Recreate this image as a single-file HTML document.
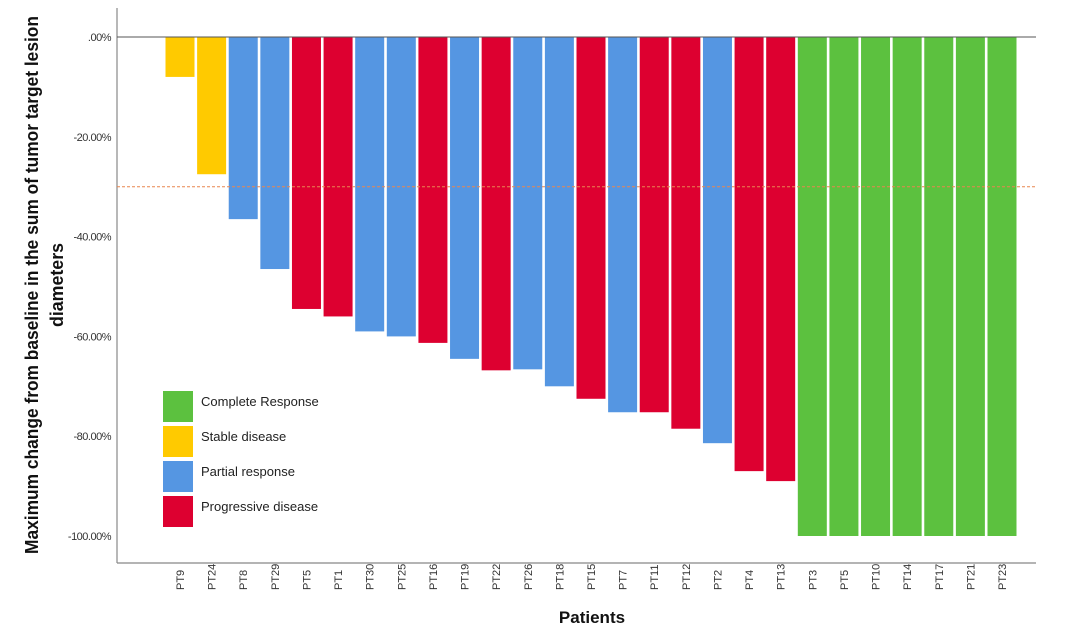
<!DOCTYPE html>
<html><head><meta charset="utf-8"><style>
html,body{margin:0;padding:0;background:#fff;}
svg{display:block;font-family:"Liberation Sans",sans-serif;}
</style></head><body>
<svg id="chart" width="1080" height="635" viewBox="0 0 1080 635">
<g id="bars"></g>
<g id="axes"></g>
</svg>
<script>
const patients=["PT9","PT24","PT8","PT29","PT5","PT1","PT30","PT25","PT16","PT19","PT22","PT26","PT18","PT15","PT7","PT11","PT12","PT2","PT4","PT13","PT3","PT5","PT10","PT14","PT17","PT21","PT23"];
const values=[-8,-27.5,-36.5,-46.5,-54.5,-56,-59,-60,-61.3,-64.5,-66.8,-66.6,-70,-72.5,-75.2,-75.2,-78.5,-81.4,-87,-89,-100,-100,-100,-100,-100,-100,-100];
const responses=["SD","SD","PR","PR","PD","PD","PR","PR","PD","PR","PD","PR","PR","PD","PR","PD","PD","PR","PD","PD","CR","CR","CR","CR","CR","CR","CR"];
const yTicks=[0,-20,-40,-60,-80,-100];
const yTickLabels=[".00%","-20.00%","-40.00%","-60.00%","-80.00%","-100.00%"];
const threshold=-30;
const legendKeys=["CR","SD","PR","PD"];
const legendLabels=["Complete Response","Stable disease","Partial response","Progressive disease"];
const colors={CR:"#5cc13f",SD:"#ffca00",PR:"#5596e2",PD:"#dd0030"};

const NS="http://www.w3.org/2000/svg";
const y=v=>37+(-v)*4.99;
const x0=180, step=(1002-180)/26;
const xc=i=>x0+i*step;
const bw=29;
function mk(tag,attrs,parent,text){const e=document.createElementNS(NS,tag);for(const k in attrs)e.setAttribute(k,attrs[k]);if(text!=null)e.textContent=text;parent.appendChild(e);return e;}
const svg=document.getElementById('chart'),bars=document.getElementById('bars'),axes=document.getElementById('axes');

values.forEach((v,i)=>{
  const r=mk('rect',{x:xc(i)-bw/2,y:y(0),width:bw,height:y(v)-y(0),fill:colors[responses[i]]},bars);
  
  
  const t=mk('text',{transform:`translate(${xc(i)+4},590) rotate(-90)`,'font-size':11,fill:'#333'},axes,patients[i]);
  
  
});
let l=mk('line',{x1:117,y1:8,x2:117,y2:563,stroke:'#888','stroke-width':1.2},axes);

l=mk('line',{x1:117,y1:563,x2:1036,y2:563,stroke:'#888','stroke-width':1.2},axes);

l=mk('line',{x1:117,y1:y(0),x2:1036,y2:y(0),stroke:'#555','stroke-width':1},axes);

l=mk('line',{x1:117,y1:y(threshold),x2:1036,y2:y(threshold),stroke:'#e8864f','stroke-width':1,'stroke-dasharray':'3,2'},axes);

yTicks.forEach((v,i)=>{
  const t=mk('text',{x:111,y:y(v)+4,'text-anchor':'end','font-size':11,fill:'#333','letter-spacing':'-0.5'},axes,yTickLabels[i]);
  
  
});
let t=mk('text',{transform:'translate(38,285) rotate(-90)','text-anchor':'middle','font-size':18,'font-weight':'bold',fill:'#111',textLength:538,lengthAdjust:'spacingAndGlyphs'},axes,'Maximum change from baseline in the sum of tumor target lesion');

t=mk('text',{transform:'translate(63,285) rotate(-90)','text-anchor':'middle','font-size':18,'font-weight':'bold',fill:'#111',textLength:84,lengthAdjust:'spacingAndGlyphs'},axes,'diameters');

t=mk('text',{x:592,y:623,'text-anchor':'middle','font-size':17,'font-weight':'bold',fill:'#111'},axes,'Patients');

const lg=mk('g',{},svg);

legendKeys.forEach((k,i)=>{
  const g=mk('g',{},lg);
  
  
  mk('rect',{x:163,y:391+i*35,width:30,height:31,fill:colors[k]},g);
  mk('text',{x:201,y:406+i*35,'font-size':13,fill:'#222'},g,legendLabels[i]);
});
</script>
</body></html>
